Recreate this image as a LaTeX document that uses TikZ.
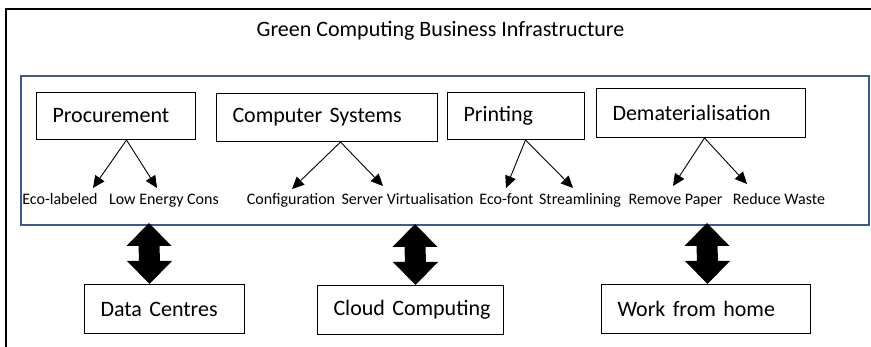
\documentclass[tikz,border=0pt]{standalone}
\usepackage{fontspec}
\setmainfont{Carlito}
\usetikzlibrary{arrows.meta,calc}
\definecolor{frameblue}{RGB}{59,89,152}
\newcommand\dblarr[2]{\fill (#1) -- ($(#1)+(22.5,23)$) -- ($(#1)+(10.5,23)$) -- ($(#2)+(10.5,-23)$) -- ($(#2)+(22.5,-23)$) -- (#2) -- ($(#2)+(-22.5,-23)$) -- ($(#2)+(-10.5,-23)$) -- ($(#1)+(-10.5,23)$) -- ($(#1)+(-22.5,23)$) -- cycle;}
\begin{document}
\begin{tikzpicture}[x=1pt,y=-1pt,
  box/.style={draw=black,line width=1pt,inner xsep=16pt,inner ysep=0pt,align=left,
    font=\fontsize{22}{26}\selectfont,anchor=north west},
  lab/.style={font=\fontsize{16}{19}\selectfont,inner sep=0pt,anchor=base},
  arr/.style={-{Triangle[length=12pt,width=11pt]},line width=0.9pt}]
\useasboundingbox (0,0) rectangle (871,347);
% outer frame
\draw[line width=2pt] (6,360) -- (6,9) -- (885,9);
\node[font=\fontsize{22}{26}\selectfont] (title) at (440.5,31) {Green Computing Business Infrastructure};
% blue frame
\node[draw=frameblue,line width=2pt,minimum width=848pt,minimum height=149pt,anchor=north west,inner sep=0pt] (infra) at (20,75) {};
% top boxes
\node[box,text width=127pt,minimum height=47pt] (proc) at (36,92) {\mbox{Procurement}};
\node[box,text width=189pt,minimum height=48pt] (cs) at (216,93) {\mbox{Computer Systems}};
\node[box,text width=105pt,minimum height=47pt] (print) at (447,92) {\mbox{Printing}};
\node[box,text width=177pt,minimum height=49pt] (demat) at (596,88) {\mbox{Dematerialisation}};
% labels
\node[lab] (eco) at (60,205) {Eco-labeled};
\node[lab] (low) at (164,205) {Low Energy Cons};
\node[lab] (conf) at (291,205) {Configuration};
\node[lab] (serv) at (407.5,205) {Server Virtualisation};
\node[lab] (ecof) at (506.5,205) {Eco-font};
\node[lab] (stream) at (580,205) {Streamlining};
\node[lab] (remove) at (675.5,205) {Remove Paper};
\node[lab] (reduce) at (779,205) {Reduce Waste};
% arrow ends
\coordinate (pe) at (93,188);
\coordinate (pl) at (157,188);
\coordinate (cc) at (292,189);
\coordinate (cv) at (383,186);
\coordinate (pf) at (506,188);
\coordinate (ps) at (573,188);
\coordinate (dr) at (673,186);
\coordinate (dw) at (747,184);
\draw[arr] ([xshift=10.5pt]proc.south) -- (pe);
\draw[arr] ([xshift=10.5pt]proc.south) -- (pl);
\draw[arr] ([xshift=13.5pt]cs.south) -- (cc);
\draw[arr] ([xshift=13.5pt]cs.south) -- (cv);
\draw[arr] ([xshift=9.5pt]print.south) -- (pf);
\draw[arr] ([xshift=9.5pt]print.south) -- (ps);
\draw[arr] ([xshift=3.5pt]demat.south) -- (dr);
\draw[arr] ([xshift=3.5pt]demat.south) -- (dw);
% bottom boxes
\node[box,text width=128pt,minimum height=49pt] (dc) at (84,284) {\mbox{Data Centres}};
\node[box,text width=154pt,minimum height=49pt] (cloud) at (317,285) {\mbox{Cloud Computing}};
\node[box,text width=177pt,minimum height=49pt] (work) at (601,284) {\mbox{Work from home}};
% double arrows
\coordinate (dcT) at (149,223);
\coordinate (dcB) at ([xshift=-15pt]dc.north);
\coordinate (clT) at (415,224);
\coordinate (clB) at ([xshift=5pt]cloud.north);
\coordinate (wkT) at (707,223);
\coordinate (wkB) at ([xshift=1.5pt]work.north);
\dblarr{dcT}{dcB}
\dblarr{clT}{clB}
\dblarr{wkT}{wkB}
\end{tikzpicture}
\end{document}
